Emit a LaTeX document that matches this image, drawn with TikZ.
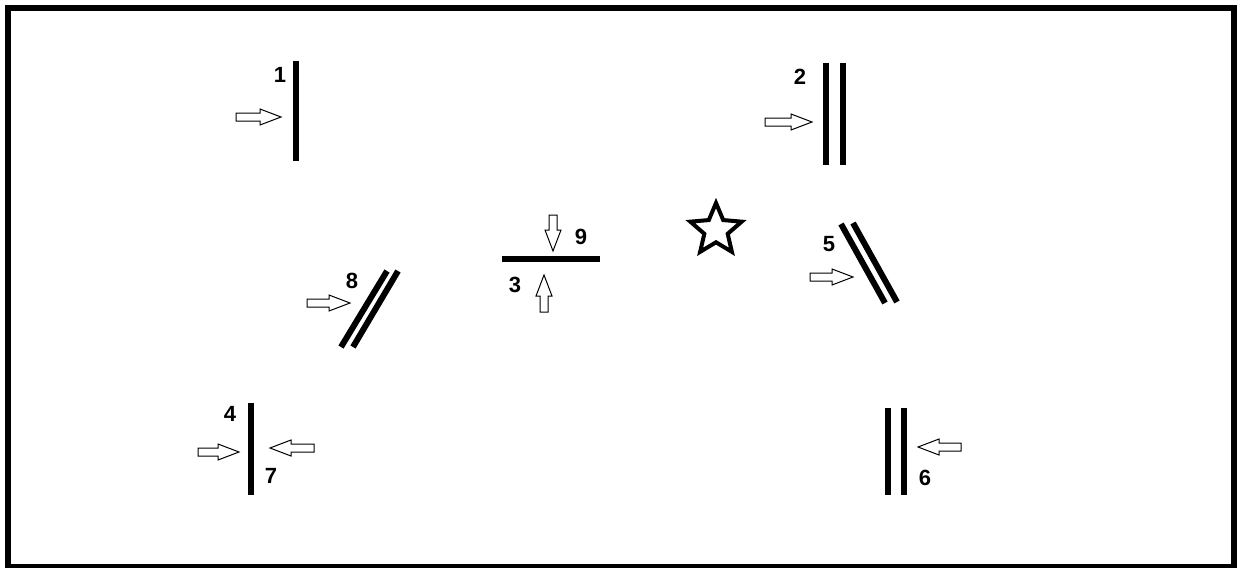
\documentclass[tikz,border=0pt]{standalone}
\usepackage{fontspec}
\setmainfont{Liberation Sans}
\usetikzlibrary{shapes.geometric}
\tikzstyle{mirror}=[line width=3pt]
\tikzstyle{num}=[font=\bfseries\fontsize{11}{13}\selectfont, inner sep=0pt]
\tikzstyle{arrowline}=[line width=0.5pt, fill=white, line join=miter]
\tikzset{
  pics/hollow/.style={code={
    \draw[arrowline] (0,-4) -- (#1-21,-4) -- (#1-21,-8) -- (#1,0) -- (#1-21,8) -- (#1-21,4) -- (0,4) -- cycle;
  }},
}

\begin{document}
\begin{tikzpicture}[x=0.5pt, y=-0.5pt]
    \useasboundingbox (0,0) rectangle (1240,567) ;
    \draw[line width=3pt] (8,8) rectangle (1234,567) ;
    % mirrors
    \draw[mirror] (296,61) -- (296,161) ;
    \draw[mirror] (826,63) -- (826,165) ;
    \draw[mirror] (843,63) -- (843,165) ;
    \draw[mirror] (502,259) -- (600,259) ;
    \draw[mirror] (251,403) -- (251,495) ;
    \draw[mirror] (841,224) -- (885,303) ;
    \draw[mirror] (853,223) -- (897,302) ;
    \draw[mirror] (888,408) -- (888,495) ;
    \draw[mirror] (904,408) -- (904,495) ;
    \draw[mirror] (387,271) -- (341,347) ;
    \draw[mirror] (398,271) -- (353,347) ;
    % labels
    \node[num] (n1) at (280,75) {1} ;
    \node[num] (n2) at (800,77) {2} ;
    \node[num] (n3) at (515,285) {3} ;
    \node[num] (n4) at (230,414) {4} ;
    \node[num] (n5) at (829,244) {5} ;
    \node[num] (n6) at (925,478) {6} ;
    \node[num] (n7) at (271,476) {7} ;
    \node[num] (n8) at (352,281) {8} ;
    \node[num] (n9) at (581,237) {9} ;
    % incoming beams
    \pic at (236,117) {hollow=45} ;
    \pic at (765,122) {hollow=47} ;
    \pic[rotate=-90] at (553,215) {hollow=36} ;
    \pic[rotate=90] at (544,312) {hollow=37} ;
    \pic at (198,452) {hollow=41} ;
    \pic[rotate=180] at (314,448) {hollow=44} ;
    \pic at (810,277) {hollow=43} ;
    \pic[rotate=180] at (961,447) {hollow=43} ;
    \pic at (307,303) {hollow=43} ;
    % star
    \node[star, star points=5, star point ratio=2.2, draw, line width=2pt, minimum size=27pt, inner sep=0pt] (sun) at (716,230) {} ;
\end{tikzpicture}
\end{document}
